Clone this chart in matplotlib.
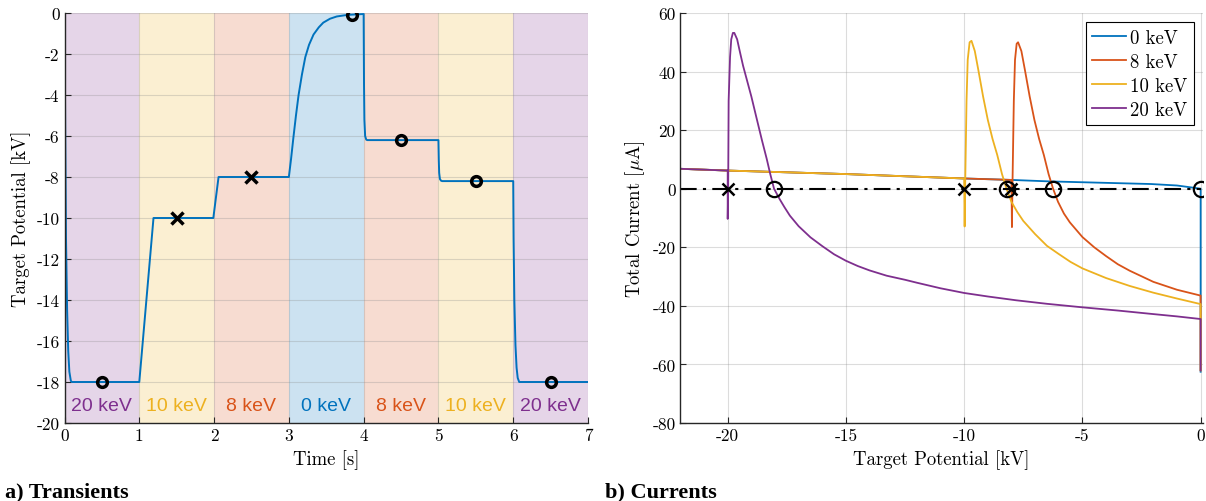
import numpy as np
import matplotlib.pyplot as plt

plt.rcParams['font.family'] = 'cmr10'
plt.rcParams['mathtext.fontset'] = 'cm'
plt.rcParams['axes.unicode_minus'] = False
plt.rcParams['axes.formatter.use_mathtext'] = False

# MATLAB default colours
c_blue = '#0072BD'
c_orange = '#D95319'
c_yellow = '#EDB120'
c_purple = '#7E2F8E'

# ---- a) transient data ----
t = [0, 0.01, 0.02, 0.035, 0.05, 0.065, 0.085, 0.1, 1.0, 1.19, 1.99, 2.06,
     3.0, 3.03, 3.06, 3.095, 3.13, 3.175, 3.22, 3.27, 3.33, 3.4, 3.46, 3.55,
     3.64, 3.75, 3.84, 4.0, 4.005, 4.01, 4.02,
     4.035, 4.05, 5.0, 5.005, 5.01, 5.02, 5.035, 5.05, 6.0, 6.005, 6.015,
     6.03, 6.045, 6.06, 6.08, 6.1, 7.0]
v = [0, -6, -11, -14.5, -16.5, -17.5, -17.95, -18, -18, -10, -10, -8,
     -8, -7.1, -6.1, -5.0, -4.0, -3.0, -2.15, -1.55, -1.05, -0.7, -0.47, -0.28,
     -0.17, -0.11, -0.08, -0.05, -3.5, -5.2, -6.0,
     -6.18, -6.2, -6.2, -7.2, -7.8, -8.1, -8.18, -8.2, -8.2, -11, -14,
     -16.2, -17.3, -17.8, -18.0, -18, -18]

band_edges = [0, 1, 2, 3, 4, 5, 6, 7]
band_labels = ['20 keV', '10 keV', '8 keV', '0 keV', '8 keV', '10 keV', '20 keV']
band_colors = [c_purple, c_yellow, c_orange, c_blue, c_orange, c_yellow, c_purple]

cross_t = [1.5, 2.5]
cross_v = [-10, -8]
circ_t = [0.5, 3.85, 4.5, 5.5, 6.5]
circ_v = [-18, -0.1, -6.2, -8.2, -18]

# ---- b) current data ----
v0 = [-22, -20, -15, -10, -8, -6.4, -4, -2.1, -1, -0.45, 0, 0]
i0 = [6.8, 6.2, 5.0, 3.5, 3.0, 2.5, 2.0, 1.6, 1.1, 0.5, 0, -62.5]

v8 = [-22, -20, -15, -10, -8.0, -7.98, -7.96, -7.9, -7.85, -7.78, -7.72,
      -7.58, -7.43, -7.23, -7.03, -6.83, -6.63, -6.43, -6.24, -6.03, -5.78,
      -5.53, -5.0, -4.5, -4.0, -3.5, -3.0, -2.0, -1.0, 0, 0]
i8 = [6.8, 6.2, 5.0, 3.5, 3.0, -13.1, 0, 30, 44, 49.5, 50,
      47, 40.5, 31.5, 23.5, 17, 11.5, 5.0, 0, -4.5, -8.5,
      -11.5, -16.5, -20, -23, -25.8, -28, -31.8, -34.5, -36.5, -62]

v10 = [-22, -20, -15, -10.0, -9.98, -9.96, -9.9, -9.85, -9.77, -9.69,
       -9.55, -9.4, -9.2, -9.0, -8.8, -8.6, -8.4, -8.21, -8.0, -7.75, -7.5,
       -7.0, -6.5, -6.0, -5.5, -5.0, -4.0, -3.0, -2.0, -1.0, 0, 0]
i10 = [6.8, 6.2, 5.0, 3.5, -12.9, 0, 30, 44, 50, 50.5,
       47, 40.5, 31.5, 23.5, 17, 11.5, 5.0, 0, -4.5, -8, -11,
       -15.5, -19.5, -22.3, -25, -27.2, -30.5, -33.2, -35.5, -37.5, -39.4, -62]

v20 = [-22, -20.0, -20.0, -19.98, -19.96, -19.9, -19.85, -19.78, -19.72,
       -19.6, -19.48, -19.35, -19.2, -19.0, -18.77, -18.55, -18.35, -18.2,
       -18.04, -17.8, -17.6, -17.37, -17.0, -16.5, -16.0, -15.5, -15.0, -14.5,
       -14.0, -13.28, -12.5, -12.0, -11.0, -10.0, -9.0, -7.8, -6.5, -5.0,
       -3.5, -2.14, -1.0, 0, 0]
i20 = [6.8, 6.2, -10.3, 0, 30, 45, 51, 53.2, 53.2,
       51, 46.6, 42, 37.5, 31.5, 23.8, 16.5, 10.2, 5,
       0, -3.6, -6.3, -9.2, -12.8, -16.6, -19.6, -22.4, -24.6, -26.4,
       -27.9, -29.7, -31.1, -32.1, -34.0, -35.6, -36.8, -38.1, -39.3, -40.5,
       -41.6, -42.7, -43.6, -44.5, -62]

root_cross = [-20, -10, -8]
root_circ = [-18.04, -8.2, -6.24, 0]

fig = plt.figure(figsize=(12.06, 5.02), dpi=100)
ax1 = fig.add_axes([64.5/1206, 78/502, 523.5/1206, 410/502])
ax2 = fig.add_axes([680.4/1206, 78/502, 522.6/1206, 410/502])

# Transients
for k in range(len(band_labels)):
    ax1.axvspan(band_edges[k], band_edges[k+1], color=band_colors[k], alpha=0.2, lw=0)
    ax1.text((band_edges[k] + band_edges[k+1]) / 2, -19.15, band_labels[k],
             color=band_colors[k], ha='center', va='center', fontsize=14,
             family='Liberation Sans')
ax1.plot(t, v, color=c_blue, lw=1.4)
ax1.plot(cross_t, cross_v, 'kx', ms=8, mew=2.5)
ax1.plot(circ_t, circ_v, 'o', mfc='none', mec='k', ms=7, mew=2.5)
ax1.set_xlim(0, 7)
ax1.set_ylim(-20, 0)
ax1.set_yticks(np.arange(-20, 1, 2))
ax1.set_xticks(range(0, 8))
ax1.set_xlabel('Time [s]', fontsize=13.5)
ax1.set_ylabel('Target Potential [kV]', fontsize=13.5)

# Currents
ax2.plot(v0, i0, color=c_blue, lw=1.3, label='0 keV')
ax2.plot(v8, i8, color=c_orange, lw=1.3, label='8 keV')
ax2.plot(v10, i10, color=c_yellow, lw=1.3, label='10 keV')
ax2.plot(v20, i20, color=c_purple, lw=1.3, label='20 keV')
ax2.plot([-22, 0], [0, 0], color='k', lw=1.5, ls=(0, (8, 3, 1.5, 3)))
ax2.plot(root_cross, [0]*len(root_cross), 'kx', ms=8, mew=1.8)
ax2.plot(root_circ, [0]*len(root_circ), 'o', mfc='none', mec='k', ms=11, mew=1.6)
ax2.set_xlim(-22, 0.1)
ax2.set_ylim(-80, 60)
ax2.set_xticks([-20, -15, -10, -5, 0])
ax2.set_yticks(np.arange(-80, 61, 20))
ax2.set_xlabel('Target Potential [kV]', fontsize=13.5)
ax2.set_ylabel(r'Total Current [$\mu$A]', fontsize=13.5)
leg = ax2.legend(loc='upper right', fontsize=13.5, fancybox=False, framealpha=1,
                 edgecolor='k', handlelength=1.8, handletextpad=0.2,
                 borderaxespad=0.5, labelspacing=0.32, borderpad=0.35)
leg.get_frame().set_linewidth(0.8)

for ax in (ax1, ax2):
    ax.grid(True, color='#8c8c8c', alpha=0.3, lw=0.8)
    ax.spines['top'].set_visible(False)
    ax.spines['right'].set_visible(False)
    for s in ('left', 'bottom'):
        ax.spines[s].set_color('#262626')
        ax.spines[s].set_linewidth(1.0)
    ax.tick_params(direction='in', labelsize=12.5, length=4, colors='#262626')
    ax.tick_params(labelcolor='k')

fig.text(5/1206, 1 - 492/502, 'a) Transients', family='Liberation Serif',
         weight='bold', fontsize=16, va='center')
fig.text(605/1206, 1 - 492/502, 'b) Currents', family='Liberation Serif',
         weight='bold', fontsize=16, va='center')

fig.savefig('out.png', dpi=100)
